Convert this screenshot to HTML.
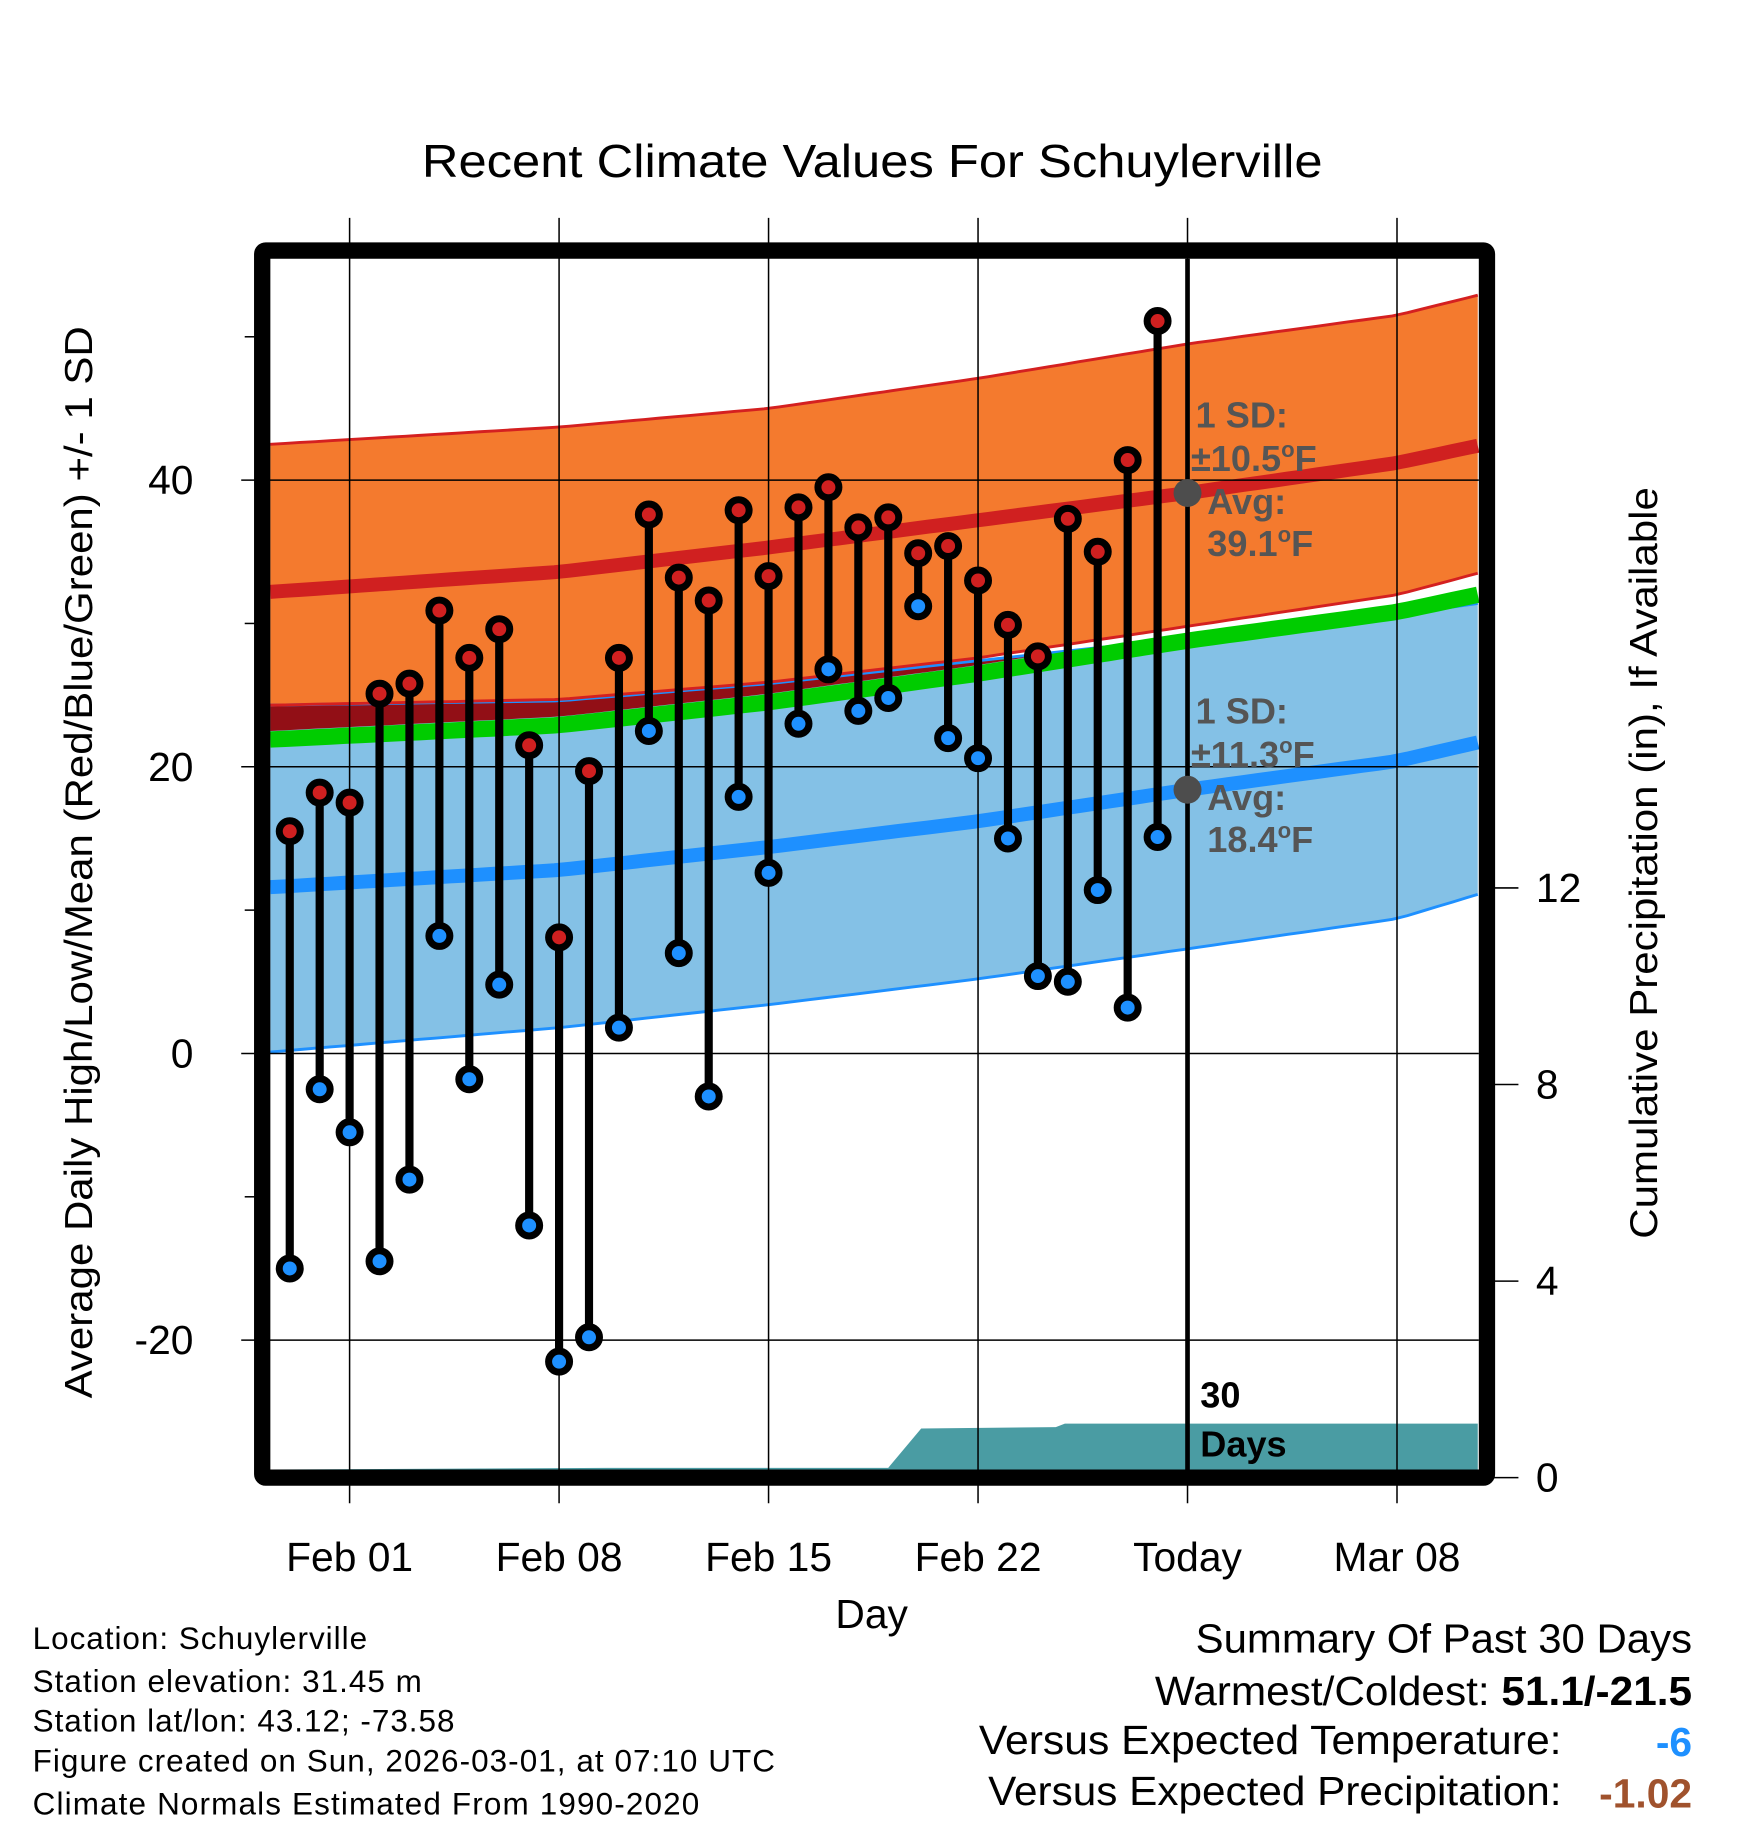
<!DOCTYPE html>
<html><head><meta charset="utf-8"><style>
html,body{margin:0;padding:0;background:#fff;}
svg{display:block;font-family:"Liberation Sans",Arial,sans-serif;}
</style></head><body>
<svg id="chart" width="1748" height="1828" viewBox="0 0 1500 1568.65" xmlns="http://www.w3.org/2000/svg">
<g id="bands"></g><g id="grid"></g><g id="marks"></g><g id="frame"></g><g id="labels"></g>
</svg>
<script>
// ---- data ----
const dayLabels = ["Feb 01","Feb 08","Feb 15","Feb 22","Today","Mar 08"];
const dayTicks = [0,7,14,21,28,35];
const obsDays = [-2,-1,0,1,2,3,4,5,6,7,8,9,10,11,12,13,14,15,16,17,18,19,20,21,22,23,24,25,26,27];
const highs = [15.5,18.2,17.5,25.1,25.8,30.9,27.6,29.6,21.5,8.1,19.7,27.6,37.6,33.2,31.6,37.9,33.3,38.1,39.5,36.7,37.4,34.9,35.4,33.0,29.9,27.7,37.3,35.0,41.4,51.1];
const lows = [-15,-2.5,-5.5,-14.5,-8.8,8.2,-1.8,4.8,-12,-21.5,-19.8,1.8,22.5,7.0,-3.0,17.9,12.6,23.0,26.8,23.9,24.8,31.2,22.0,20.6,15.0,5.4,5.0,11.4,3.2,15.1];
const normDays = [-2.65,7,14,21,28,35,37.7];
const highAvg = [32.2,33.6,35.3,37.2,39.1,41.2,42.4];
const highTop = [42.5,43.7,45.0,47.1,49.5,51.5,52.9];
const highBot = [24.3,24.7,25.9,27.6,29.8,32.0,33.5];
const lowAvg = [11.6,12.8,14.4,16.2,18.4,20.4,21.7];
const lowBot = [0.1,1.8,3.4,5.2,7.3,9.4,11.1];
const lowTop = [24.3,24.6,25.8,27.4,29.0,30.6,31.4];
const meanT = [21.9,22.9,24.5,26.5,28.8,30.8,32.0];
const precipDays = [-2.65,8.6,18.0,19.1,23.6,23.9,37.7];
const precipCum = [0,0.2,0.2,1.0,1.03,1.1,1.1];
const yTicks = [-20,0,20,40];
const yMinor = [-10,10,30,50];
const pTicks = [0,4,8,12];

// ---- scales ----
const X = d => 300 + d*25.68;
const Y = v => 904 - v*12.3;
const YP = p => 1268 - p*42.17;
const NS = "http://www.w3.org/2000/svg";
function mk(parent, tag, attrs, text){
  const e = document.createElementNS(NS, tag);
  for (const k in attrs) e.setAttribute(k, attrs[k]);
  if (text !== undefined) e.textContent = text;
  document.getElementById(parent).appendChild(e);
  return e;
}
function interp(arr, d){
  for (let i=0;i<normDays.length-1;i++){
    if (d<=normDays[i+1]){const t=(d-normDays[i])/(normDays[i+1]-normDays[i]);return arr[i]+t*(arr[i+1]-arr[i]);}
  }
  return arr[arr.length-1];
}
const samples=[]; for(let d=-2.65; d<37.7; d+=0.5) samples.push(d);
samples.push(37.7);
function linePts(arr){return samples.map(d=>X(d).toFixed(1)+","+Y(interp(arr,d)).toFixed(1));}
function bandPts(top,bot){return linePts(top).concat(linePts(bot).reverse()).join(" ");}

let e;
e = mk("bands","polygon",{points:bandPts(lowTop,lowBot),fill:"#84c1e6"});


e = mk("bands","polygon",{points:bandPts(highTop,highBot),fill:"#f47a2e"});


const dr=[], drb=[];
samples.forEach(d=>{const top=Math.min(interp(highBot,d),interp(lowTop,d));const bot=interp(meanT,d)+0.6;const t=Math.max(top,bot);dr.push(X(d).toFixed(1)+","+Y(t).toFixed(1));drb.push(X(d).toFixed(1)+","+Y(bot).toFixed(1));});
e = mk("bands","polygon",{points:dr.concat(drb.reverse()).join(" "),fill:"#920f16"});


e = mk("bands","polyline",{points:linePts(lowTop).join(" "),fill:"none",stroke:"#1e90ff","stroke-width":2.5});


e = mk("bands","polyline",{points:linePts(highBot).join(" "),fill:"none",stroke:"#d42020","stroke-width":2.5});


e = mk("bands","polyline",{points:linePts(highTop).join(" "),fill:"none",stroke:"#d42020","stroke-width":2.5});


e = mk("bands","polyline",{points:linePts(lowBot).join(" "),fill:"none",stroke:"#1e90ff","stroke-width":2.5});


e = mk("bands","polyline",{points:linePts(meanT).join(" "),fill:"none",stroke:"#00cc00","stroke-width":14});


e = mk("bands","polyline",{points:linePts(highAvg).join(" "),fill:"none",stroke:"#d02020","stroke-width":12});


e = mk("bands","polyline",{points:linePts(lowAvg).join(" "),fill:"none",stroke:"#1e90ff","stroke-width":12});


let pp = precipDays.map((d,i)=>X(d).toFixed(1)+","+Math.min(YP(precipCum[i]),1261).toFixed(1));
pp.push(X(37.7)+",1261", X(-2.65)+",1261");
e = mk("bands","polygon",{points:pp.join(" "),fill:"#4a9ca3"});



dayTicks.forEach((d,i)=>{
  e = mk("grid","line",{x1:X(d),x2:X(d),y1:187,y2:1290,stroke:"#000","stroke-width":1.3});
  
  
  e = mk("labels","text",{x:X(d),y:1348,"text-anchor":"middle","font-size":35},dayLabels[i]);
  
  
});
yTicks.forEach(v=>{
  e = mk("grid","line",{x1:207,x2:1269,y1:Y(v),y2:Y(v),stroke:"#000","stroke-width":1.3});
  
  
  e = mk("labels","text",{x:166,y:Y(v)+12,"text-anchor":"end","font-size":35},String(v));
  
  
});
yMinor.forEach(v=>{
  e = mk("grid","line",{x1:210,x2:220,y1:Y(v),y2:Y(v),stroke:"#000","stroke-width":1.3});
  
  
});
pTicks.forEach(p=>{
  e = mk("grid","line",{x1:1280,x2:1303,y1:YP(p),y2:YP(p),stroke:"#000","stroke-width":1.3});
  
  
  e = mk("labels","text",{x:1318,y:YP(p)+12,"font-size":35},String(p));
  
  
});

e = mk("marks","line",{x1:X(28),x2:X(28),y1:222,y2:1261,stroke:"#000","stroke-width":4});



obsDays.forEach((d,i)=>{
  const x=X(d);
  e = mk("marks","line",{x1:x,x2:x,y1:Y(highs[i]),y2:Y(lows[i]),stroke:"#000","stroke-width":7});
  
  
  e = mk("marks","circle",{cx:x,cy:Y(highs[i]),r:9,fill:"#d02020",stroke:"#000","stroke-width":6});
  
  
  e = mk("marks","circle",{cx:x,cy:Y(lows[i]),r:9,fill:"#1e90ff",stroke:"#000","stroke-width":6});
  
  
});
e = mk("marks","circle",{cx:X(28),cy:Y(39.1),r:12,fill:"#4d4d4d"});


e = mk("marks","circle",{cx:X(28),cy:Y(18.4),r:12,fill:"#4d4d4d"});



e = mk("frame","rect",{x:225,y:215,width:1051,height:1053,fill:"none",stroke:"#000","stroke-width":14,rx:3});


</script>
<script>
const L=document.getElementById("labels");
L.insertAdjacentHTML("beforeend",`
<text x="362" y="152" font-size="40" textLength="773" lengthAdjust="spacingAndGlyphs">Recent Climate Values For Schuylerville</text>
<text x="748" y="1397" text-anchor="middle" font-size="35">Day</text>
<text transform="translate(79,1200) rotate(-90)" font-size="33" textLength="920" lengthAdjust="spacingAndGlyphs">Average Daily High/Low/Mean (Red/Blue/Green) +/- 1 SD</text>
<text transform="translate(1422,1063) rotate(-90)" font-size="33" textLength="645" lengthAdjust="spacingAndGlyphs">Cumulative Precipitation (in), If Available</text>
<g fill="#555" font-weight="bold" font-size="31">
<text x="1026" y="367">1 SD:</text>
<text x="1022" y="404">±10.5<tspan font-size="19" dy="-12">o</tspan><tspan dy="12">F</tspan></text>
<text x="1036" y="441">Avg:</text>
<text x="1036" y="477">39.1<tspan font-size="19" dy="-12">o</tspan><tspan dy="12">F</tspan></text>
</g>
<g fill="#555" font-weight="bold" font-size="31">
<text x="1026" y="621">1 SD:</text>
<text x="1022" y="658">±11.3<tspan font-size="19" dy="-12">o</tspan><tspan dy="12">F</tspan></text>
<text x="1036" y="695">Avg:</text>
<text x="1036" y="731">18.4<tspan font-size="19" dy="-12">o</tspan><tspan dy="12">F</tspan></text>
</g>
<g font-weight="bold" font-size="31">
<text x="1030" y="1208">30</text><text x="1030" y="1250">Days</text>
</g>
<g font-size="27" lengthAdjust="spacingAndGlyphs">
<text x="28" y="1415" textLength="287">Location: Schuylerville</text>
<text x="28" y="1452" textLength="334">Station elevation: 31.45 m</text>
<text x="28" y="1486" textLength="362">Station lat/lon: 43.12; -73.58</text>
<text x="28" y="1520" textLength="637">Figure created on Sun, 2026-03-01, at 07:10 UTC</text>
<text x="28" y="1557" textLength="572">Climate Normals Estimated From 1990-2020</text>
</g>
<g font-size="35">
<text x="1026" y="1418" textLength="426" lengthAdjust="spacingAndGlyphs">Summary Of Past 30 Days</text>
<text x="991" y="1463" textLength="461" lengthAdjust="spacingAndGlyphs">Warmest/Coldest: <tspan font-weight="bold">51.1/-21.5</tspan></text>
<text x="840" y="1505" textLength="500" lengthAdjust="spacingAndGlyphs">Versus Expected Temperature:</text>
<text x="1452" y="1507" text-anchor="end" font-weight="bold" fill="#1e90ff">-6</text>
<text x="848" y="1549" textLength="492" lengthAdjust="spacingAndGlyphs">Versus Expected Precipitation:</text>
<text x="1452" y="1551" text-anchor="end" font-weight="bold" fill="#a0522d">-1.02</text>
</g>`);
</script>
</body></html>
